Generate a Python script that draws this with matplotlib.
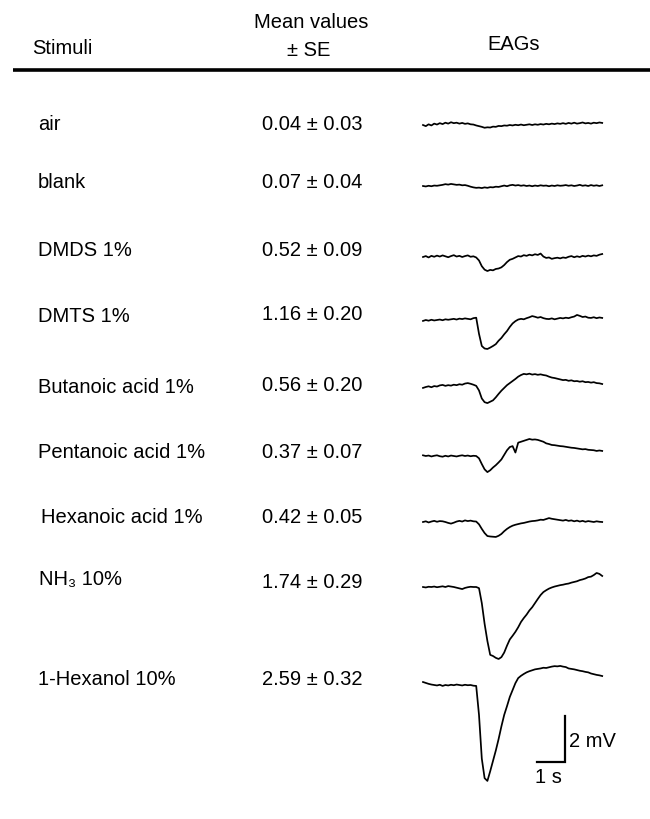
import numpy as np
import matplotlib
matplotlib.use("Agg")
import matplotlib.pyplot as plt

# ---------------- data ----------------
stimuli = ["air", "blank", "DMDS 1%", "DMTS 1%", "Butanoic acid 1%",
           "Pentanoic acid 1%", "Hexanoic acid 1%", "NH\u2083 10%", "1-Hexanol 10%"]
means = [0.04, 0.07, 0.52, 1.16, 0.56, 0.37, 0.42, 1.74, 2.59]
ses = [0.03, 0.04, 0.09, 0.20, 0.20, 0.07, 0.05, 0.29, 0.32]

# EAG traces (mV), sampled every 0.1 s from 0 to 6.4 s
time_s = np.round(np.arange(65) * 0.1, 1)
eag_air = [0.00, -0.05, 0.03, -0.02, 0.06, 0.02, 0.08, 0.04, 0.10, 0.06,
           0.12, 0.08, 0.10, 0.06, 0.09, 0.05, 0.07, 0.03, 0.02, -0.02,
           -0.05, -0.08, -0.12, -0.10, -0.11, -0.07, -0.08, -0.04, -0.05, -0.02,
           -0.03, 0.00, -0.02, 0.01, -0.01, 0.02, -0.01, 0.01, 0.03, 0.00,
           0.03, 0.01, 0.04, 0.02, 0.05, 0.03, 0.06, 0.04, 0.07, 0.05,
           0.08, 0.05, 0.09, 0.06, 0.10, 0.06, 0.08, 0.11, 0.07, 0.09,
           0.06, 0.10, 0.08, 0.11, 0.09]
eag_blank = [0.00, -0.02, 0.01, -0.01, 0.02, 0.01, 0.03, 0.05, 0.08, 0.06,
             0.09, 0.07, 0.05, 0.06, 0.03, 0.04, 0.01, -0.03, -0.06, -0.08,
             -0.07, -0.09, -0.06, -0.08, -0.05, -0.06, -0.03, -0.04, -0.01, 0.02,
             -0.01, 0.03, 0.05, 0.02, 0.04, 0.01, 0.03, 0.00, 0.02, -0.01,
             0.02, 0.00, 0.03, 0.01, 0.02, -0.01, 0.02, 0.00, 0.03, 0.01,
             0.02, 0.04, 0.01, 0.03, 0.00, 0.02, 0.05, 0.01, 0.03, 0.00,
             0.04, 0.01, 0.03, 0.00, 0.03]
eag_dmds = [0.00, 0.04, -0.02, 0.05, 0.01, 0.06, 0.02, 0.07, 0.03, -0.01,
            0.04, 0.08, 0.02, 0.05, 0.00, 0.04, 0.07, 0.01, 0.03, -0.02,
            -0.15, -0.40, -0.55, -0.61, -0.56, -0.58, -0.52, -0.50, -0.45, -0.35,
            -0.22, -0.12, -0.08, -0.02, 0.04, 0.02, 0.08, 0.05, 0.10, 0.07,
            0.12, 0.09, 0.15, 0.02, -0.04, -0.02, -0.08, -0.05, -0.03, -0.06,
            -0.02, -0.04, 0.01, 0.04, -0.01, 0.03, 0.00, 0.05, 0.02, 0.06,
            0.03, 0.07, 0.05, 0.10, 0.13]
eag_dmts = [-0.04, 0.00, -0.03, 0.01, -0.02, 0.00, 0.02, -0.01, 0.03, 0.01,
            0.03, 0.05, 0.02, 0.06, 0.04, 0.07, 0.05, 0.03, 0.08, 0.10,
            -0.60, -1.13, -1.24, -1.26, -1.20, -1.13, -1.05, -0.90, -0.78, -0.62,
            -0.48, -0.30, -0.15, -0.05, 0.02, 0.05, 0.03, 0.08, 0.12, 0.17,
            0.14, 0.10, 0.13, 0.08, 0.05, 0.04, 0.07, 0.03, 0.06, 0.09,
            0.07, 0.10, 0.08, 0.12, 0.15, 0.22, 0.18, 0.13, 0.15, 0.10,
            0.09, 0.12, 0.08, 0.11, 0.09]
eag_butanoic = [-0.04, 0.00, 0.03, -0.01, 0.04, 0.02, 0.07, 0.09, 0.05, 0.08,
                0.06, 0.10, 0.08, 0.12, 0.10, 0.15, 0.17, 0.14, 0.10, 0.05,
                -0.15, -0.50, -0.66, -0.70, -0.64, -0.58, -0.45, -0.30, -0.16, -0.04,
                0.08, 0.17, 0.26, 0.35, 0.45, 0.52, 0.57, 0.55, 0.58, 0.54,
                0.56, 0.53, 0.55, 0.52, 0.50, 0.45, 0.41, 0.39, 0.36, 0.33,
                0.30, 0.31, 0.27, 0.29, 0.25, 0.26, 0.23, 0.25, 0.21, 0.22,
                0.19, 0.21, 0.17, 0.16, 0.13]
eag_pentanoic = [0.03, 0.00, 0.02, -0.02, 0.01, 0.03, -0.01, -0.03, 0.01, -0.02,
                 0.02, 0.00, -0.02, 0.01, 0.03, 0.00, 0.02, -0.01, 0.01, 0.00,
                 -0.10, -0.35, -0.58, -0.70, -0.62, -0.50, -0.40, -0.28, -0.15, 0.05,
                 0.25, 0.39, 0.43, 0.15, 0.58, 0.62, 0.66, 0.70, 0.74, 0.71,
                 0.72, 0.70, 0.66, 0.62, 0.55, 0.52, 0.48, 0.47, 0.45, 0.43,
                 0.42, 0.40, 0.38, 0.36, 0.35, 0.33, 0.31, 0.29, 0.30, 0.27,
                 0.26, 0.25, 0.22, 0.24, 0.22]
eag_hexanoic = [0.00, 0.03, -0.02, 0.02, 0.05, 0.01, 0.04, 0.03, 0.00, -0.04,
                -0.07, -0.03, 0.02, 0.05, 0.02, 0.07, 0.04, 0.06, 0.03, 0.02,
                -0.10, -0.30, -0.48, -0.61, -0.63, -0.64, -0.65, -0.60, -0.52, -0.40,
                -0.30, -0.22, -0.16, -0.12, -0.09, -0.06, -0.04, -0.01, 0.02, 0.04,
                0.05, 0.07, 0.10, 0.09, 0.13, 0.17, 0.14, 0.12, 0.10, 0.08,
                0.06, 0.09, 0.05, 0.07, 0.03, 0.06, 0.02, 0.05, 0.01, 0.04,
                0.02, 0.00, 0.03, 0.01, 0.00]
eag_nh3 = [0.00, -0.02, 0.01, 0.00, 0.02, -0.01, 0.01, 0.03, 0.00, 0.04,
           0.02, 0.00, -0.03, -0.06, -0.09, -0.04, -0.01, 0.01, 0.00, 0.00,
           -0.05, -0.70, -1.60, -2.35, -2.95, -3.00, -3.08, -3.13, -3.05, -2.85,
           -2.55, -2.28, -2.12, -1.95, -1.75, -1.52, -1.35, -1.20, -1.02, -0.88,
           -0.70, -0.52, -0.35, -0.22, -0.14, -0.07, -0.02, 0.02, 0.05, 0.08,
           0.10, 0.13, 0.15, 0.19, 0.22, 0.25, 0.30, 0.33, 0.37, 0.43,
           0.45, 0.52, 0.61, 0.57, 0.48]
eag_hexanol = [0.13, 0.09, 0.05, 0.02, 0.00, -0.02, 0.01, -0.04, 0.00, -0.02,
               0.01, -0.01, 0.02, 0.00, -0.02, 0.01, -0.01, 0.00, -0.03, -0.04,
               -1.30, -3.20, -4.05, -4.17, -3.75, -3.30, -2.85, -2.35, -1.80, -1.30,
               -0.92, -0.52, -0.22, 0.08, 0.30, 0.40, 0.48, 0.55, 0.60, 0.64,
               0.68, 0.70, 0.72, 0.75, 0.74, 0.77, 0.80, 0.82, 0.81, 0.83,
               0.80, 0.78, 0.72, 0.70, 0.68, 0.65, 0.62, 0.60, 0.57, 0.55,
               0.50, 0.47, 0.44, 0.42, 0.39]
traces = [eag_air, eag_blank, eag_dmds, eag_dmts, eag_butanoic,
          eag_pentanoic, eag_hexanoic, eag_nh3, eag_hexanol]

# scale bar values
bar_time_s = 1.0
bar_volt_mv = 2.0

# ---------------- layout (pixels) ----------------
W, H = 650, 820
label_x = [38, 38, 38, 38, 38, 38, 41, 39, 38]
label_y = [125, 182, 250, 317, 388, 453, 518, 580, 680]
value_y = [125, 182, 250, 315, 386, 453, 518, 583, 680]
trace_base_y = [126, 187, 258, 321, 388, 457, 523, 588, 686]
value_cx = 312
trace_x0 = 423
PX_PER_S = 28.0
PX_PER_MV = 23.0
YLO, YHI = -4.6, 1.2

fam = ["Liberation Sans", "DejaVu Sans"]
fs = 14.5

fig = plt.figure(figsize=(W / 100, H / 100), dpi=100)
ax = fig.add_axes([0, 0, 1, 1])
ax.set_xlim(0, W)
ax.set_ylim(H, 0)
ax.axis("off")

# header
ax.text(62, 48, "Stimuli", family=fam, fontsize=fs, ha="center", va="center")
ax.text(311, 22, "Mean values", family=fam, fontsize=fs, ha="center", va="center")
ax.text(309, 50, "\u00b1 SE", family=fam, fontsize=fs, ha="center", va="center")
ax.text(514, 45, "EAGs", family=fam, fontsize=fs, ha="center", va="center")
ax.plot([13, 650], [71, 71], color="black", lw=2.6, solid_capstyle="butt")

# rows
for i, name in enumerate(stimuli):
    ax.text(label_x[i], label_y[i], name, family=fam, fontsize=fs,
            ha="left", va="center")
    ax.text(value_cx, value_y[i], f"{means[i]:.2f} \u00b1 {ses[i]:.2f}",
            family=fam, fontsize=fs, ha="center", va="center")

# traces: one transparent axes per row, shared mV / s scale
t_end = time_s[-1]
tax = None
for i, tr in enumerate(traces):
    b = trace_base_y[i]
    top_px = b - YHI * PX_PER_MV
    bot_px = b - YLO * PX_PER_MV
    rect = [trace_x0 / W, 1 - bot_px / H, t_end * PX_PER_S / W, (bot_px - top_px) / H]
    tax = fig.add_axes(rect)
    tax.set_xlim(0, t_end)
    tax.set_ylim(YLO, YHI)
    tax.axis("off")
    tax.patch.set_alpha(0)
    tax.plot(time_s, tr, color="black", lw=1.25, clip_on=False)

# scale bar in the last trace axes
bx = 5.07
by = -3.35
tax.plot([bx - bar_time_s, bx, bx], [by, by, by + bar_volt_mv],
         color="black", lw=1.6, solid_joinstyle="miter", clip_on=False)
tax.text(bx + 0.15, by + bar_volt_mv / 2 - 0.05, f"{bar_volt_mv:.0f} mV",
         family=fam, fontsize=fs, ha="left", va="center", clip_on=False)
tax.text(bx - bar_time_s / 2 - 0.1, by - 0.2, f"{bar_time_s:.0f} s",
         family=fam, fontsize=fs, ha="center", va="top", clip_on=False)

fig.savefig("out.png", dpi=100)
